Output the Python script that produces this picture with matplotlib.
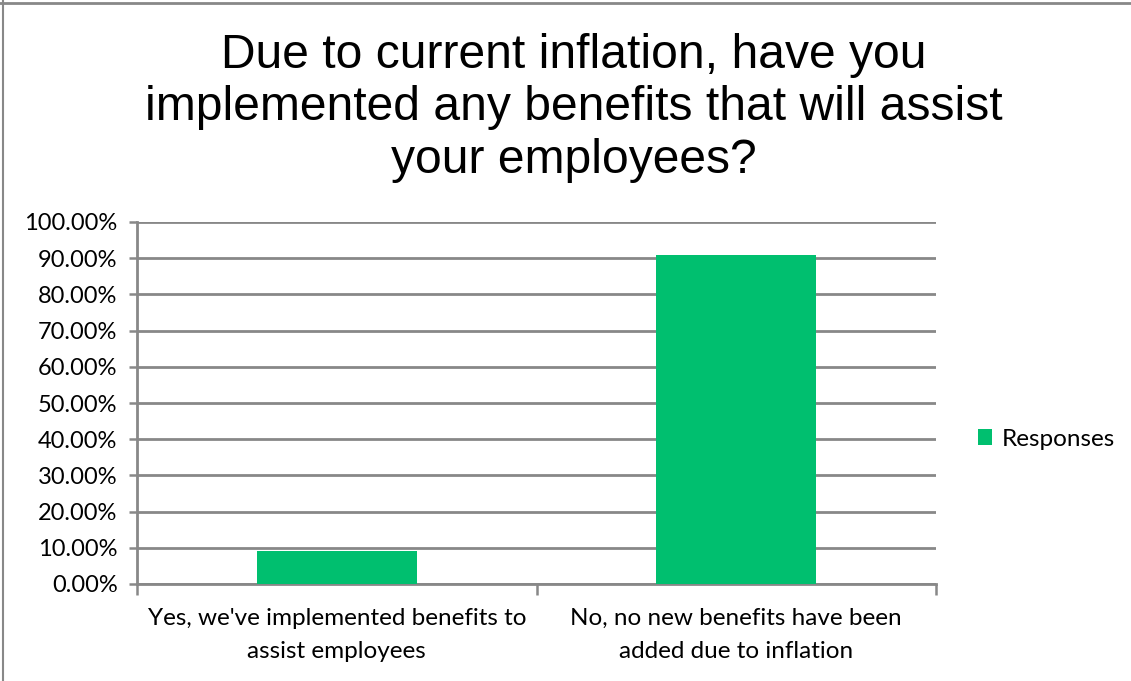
import matplotlib
matplotlib.use("Agg")
import matplotlib.pyplot as plt
from matplotlib.lines import Line2D
from matplotlib.patches import Patch

categories = ["Yes, we've implemented benefits to\nassist employees",
              "No, no new benefits have been\nadded due to inflation"]
values = [9.09, 90.91]
yticks = [0, 10, 20, 30, 40, 50, 60, 70, 80, 90, 100]
ytick_labels = [f"{v:.2f}%" for v in yticks]
series_name = "Responses"
title = "Due to current inflation, have you\nimplemented any benefits that will assist\nyour employees?"

green = "#00BF6F"
grid_c = "#888888"
lab_font = ["Lato", "DejaVu Sans"]

fig = plt.figure(figsize=(11.31, 6.81), dpi=100)
W, H = 1131, 681
ax = fig.add_axes([137 / W, 1 - 584 / H, (936 - 137) / W, (584 - 222) / H])

x = list(range(len(categories)))
bars = ax.bar(x, values, width=0.4, color=green, zorder=3, label=series_name)
ax.set_xlim(-0.5, 1.5)
ax.set_ylim(0, 100)
ax.set_yticks(yticks)
ax.set_yticklabels(ytick_labels, fontsize=17, family=lab_font, color="#000000")
ax.set_xticks([-0.5, 0.5, 1.5], minor=False)
ax.set_xticklabels([])
ax.set_xticks(x, minor=True)
ax.set_xticklabels(categories, minor=True, fontsize=17.5, family=lab_font,
                   linespacing=1.75)
ax.tick_params(axis="x", which="minor", length=0, pad=17)
ax.tick_params(axis="x", which="major", length=8, width=1.8, color=grid_c, direction="out")
ax.tick_params(axis="y", length=6, width=1.8, color=grid_c, direction="out", pad=8)
ax.grid(axis="y", color=grid_c, linewidth=2, zorder=1)
for s in ["top", "right"]:
    ax.spines[s].set_visible(False)
for s in ["left", "bottom"]:
    ax.spines[s].set_color(grid_c)
    ax.spines[s].set_linewidth(2)

fig.text(574 / W, 1 - 108 / H, title, ha="center", va="center", fontsize=34.6,
         family=["Liberation Sans", "DejaVu Sans"], linespacing=1.22)

leg = fig.legend(handles=[Patch(facecolor=green, edgecolor="none", label=series_name)],
                 loc="center left", bbox_to_anchor=(956 / W, 1 - 439 / H), frameon=False,
                 prop={"family": lab_font, "size": 17.5}, handlelength=0.6, handleheight=0.6,
                 handletextpad=0.4)

# figure border (top and left visible)
fig.add_artist(Line2D([0, 1], [1 - 2.5 / H, 1 - 2.5 / H], transform=fig.transFigure,
                      color="#888888", linewidth=2))
fig.add_artist(Line2D([3 / W, 3 / W], [0, 1], transform=fig.transFigure,
                      color="#888888", linewidth=1.5))

fig.savefig("out.png", dpi=100)
